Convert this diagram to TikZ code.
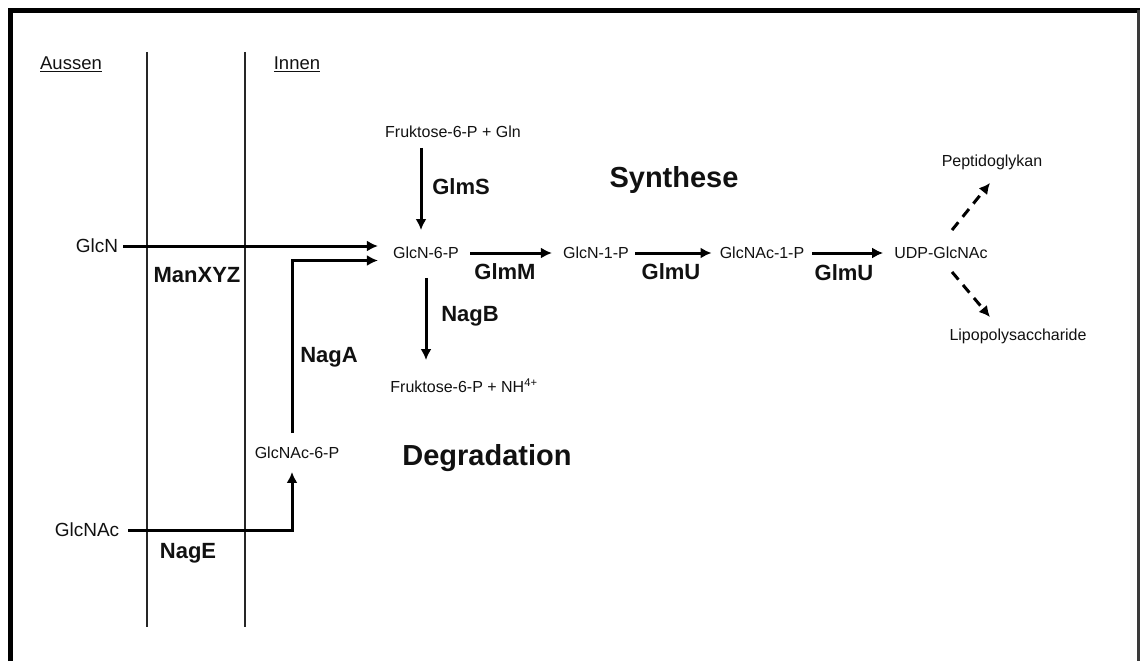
\documentclass[tikz,border=0pt]{standalone}
\usepackage{fontspec}
\setmainfont{Liberation Sans}
\usetikzlibrary{arrows.meta,calc}
\definecolor{textdark}{HTML}{111111}
\definecolor{framegray}{HTML}{3A3A3A}
\tikzset{
  >=Latex,
  compound/.style={inner sep=0pt, text depth=0pt, text height=11.5pt,
    font=\fontsize{16}{19}\selectfont, text=textdark},
  outside/.style={compound, text height=13.6pt, font=\fontsize{19}{22}\selectfont},
  side/.style={compound, text height=13.2pt, font=\fontsize{18.5}{22}\selectfont},
  enzyme/.style={compound, text height=15.8pt, font=\fontsize{22}{26}\selectfont\bfseries},
  region/.style={compound, text height=20.8pt, font=\fontsize{29}{34}\selectfont\bfseries},
  arrow/.style={-{Latex[length=11pt,width=11pt]}, line width=3pt, draw=black},
  dasharrow/.style={arrow, dash pattern=on 10pt off 7pt},
  membrane/.style={line width=1.4pt, draw=black!85}
}

\begin{document}
\begin{tikzpicture}[x=1pt, y=-1pt]
\useasboundingbox (0,0) rectangle (1140,661);
\draw[line width=5pt] (10.5,661) -- (10.5,10.5) -- (1140,10.5);
\draw[line width=2.5pt, framegray] (1138.5,10.5) -- (1138.5,661);
\draw[membrane] (147,52) -- (147,627);
\draw[membrane] (245,52) -- (245,627);
\node[side] (aussen) at (71,63) {\underline{Aussen}};
\node[side] (innen) at (297,63) {\underline{Innen}};
\node[outside] (glcn) at (97,246) {GlcN};
\node[outside] (glcnac) at (87,530) {GlcNAc};
\node[enzyme] (manxyz) at (197,275) {ManXYZ};
\node[enzyme] (nage) at (188,551) {NagE};
\node[compound] (glcnac6p) at (297,453) {GlcNAc-6-P};
\node[enzyme] (naga) at (329,355) {NagA};
\node[compound] (fru) at (453,132) {Fruktose-6-P + Gln};
\node[enzyme] (glms) at (461,187) {GlmS};
\node[region] (synthese) at (674,177) {Synthese};
\node[compound] (glcn6p) at (426,253) {GlcN-6-P};
\node[enzyme] (glmm) at (505,272) {GlmM};
\node[enzyme] (nagb) at (470,314) {NagB};
\node[compound] (fruNH) at (464,387) {Fruktose-6-P + NH\textsuperscript{4+}};
\node[region] (degradation) at (487,455) {Degradation};
\node[compound] (glcn1p) at (596,253) {GlcN-1-P};
\node[enzyme] (glmuA) at (671,272) {GlmU};
\node[compound] (glcnac1p) at (762,253) {GlcNAc-1-P};
\node[enzyme] (glmuB) at (844,273) {GlmU};
\node[compound] (udp) at (941,253) {UDP-GlcNAc};
\node[compound] (peptido) at (992,161) {Peptidoglykan};
\node[compound] (lipo) at (1018,335) {Lipopolysaccharide};
\draw[arrow, shorten <=5pt, shorten >=15pt] (glcn.east) -- (glcn.east -| glcn6p.west);
\draw[arrow, shorten <=9pt, shorten >=13pt] (glcnac.east) -| ($(glcnac6p.south)+(-5,0)$);
\draw[arrow, shorten <=14pt, shorten >=15pt] ($(glcnac6p.north)+(-5,0)$) |- ($(glcn6p.west)+(0,7.5)$);
\draw[arrow, shorten <=10pt, shorten >=17pt] ($(glcn6p.north |- fru.south)+(-5,0)$) -- ($(glcn6p.north)+(-5,0)$);
\draw[arrow, shorten <=19pt, shorten >=21pt] (glcn6p.south) -- (glcn6p.south |- fruNH.north);
\draw[arrow, shorten <=11pt, shorten >=11pt] (glcn6p.east) -- (glcn1p.west);
\draw[arrow, shorten <=6pt, shorten >=8pt] (glcn1p.east) -- (glcnac1p.west);
\draw[arrow, shorten <=8pt, shorten >=11pt] (glcnac1p.east) -- (udp.west);
\draw[dasharrow] ($(udp.north)+(11,-17)$) -- ($(peptido.south)+(-2,16)$);
\draw[dasharrow] ($(udp.south)+(11,13)$) -- ($(lipo.north)+(-28,-12)$);
\end{tikzpicture}
\end{document}
